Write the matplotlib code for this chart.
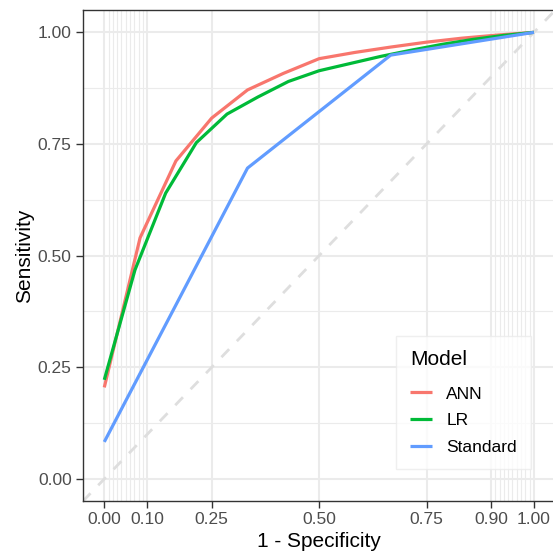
import numpy as np
import matplotlib
matplotlib.use("Agg")
import matplotlib.pyplot as plt

plt.rcParams['font.family'] = ['Liberation Sans', 'DejaVu Sans']

# ROC curve points
ann_fpr = [0, 1/12, 2/12, 3/12, 4/12, 5/12, 6/12, 7/12, 8/12, 9/12, 10/12, 11/12, 1]
ann_tpr = [0.205, 0.540, 0.712, 0.808, 0.871, 0.908, 0.941, 0.955, 0.967, 0.978, 0.987, 0.994, 1.0]

lr_fpr = [0, 1/14, 2/14, 3/14, 4/14, 5/14, 6/14, 7/14, 8/14, 9/14, 10/14, 11/14, 12/14, 13/14, 1]
lr_tpr = [0.222, 0.468, 0.640, 0.753, 0.817, 0.855, 0.890, 0.914, 0.930, 0.946, 0.960, 0.973, 0.984, 0.993, 1.0]

std_fpr = [0, 1/3, 2/3, 1]
std_tpr = [0.083, 0.696, 0.949, 1.0]

models = ['ANN', 'LR', 'Standard']
colors = ['#F8766D', '#00BA38', '#619CFF']

x_breaks = [0, 0.1, 0.25, 0.5, 0.75, 0.9, 1.0]
x_labels = ['0.00', '0.10', '0.25', '0.50', '0.75', '0.90', '1.00']
x_minor = [0.01 * i for i in range(1, 10)] + [0.9 + 0.01 * i for i in range(1, 10)]
y_breaks = [0, 0.25, 0.5, 0.75, 1.0]
y_minor = [0.125, 0.375, 0.625, 0.875]

W, H = 553, 551
fig = plt.figure(figsize=(W / 100, H / 100), dpi=100)
ax = fig.add_axes([82.8 / W, 49.7 / H, 472.6 / W, 491.3 / H])

ax.set_xlim(-0.05, 1.05)
ax.set_ylim(-0.05, 1.05)

# grid
for v in x_minor:
    ax.axvline(v, color='#EBEBEB', lw=0.8, zorder=0)
for v in y_minor:
    ax.axhline(v, color='#EBEBEB', lw=0.8, zorder=0)
for v in x_breaks:
    ax.axvline(v, color='#EBEBEB', lw=1.5, zorder=0)
for v in y_breaks:
    ax.axhline(v, color='#EBEBEB', lw=1.5, zorder=0)

# chance diagonal
ax.plot([-0.05, 1.05], [-0.05, 1.05], color='#DEDEDE', lw=2.0,
        dashes=(4, 4), zorder=1)

series = [(ann_fpr, ann_tpr), (lr_fpr, lr_tpr), (std_fpr, std_tpr)]
for (fx, fy), name, c in zip(series, models, colors):
    ax.plot(fx, fy, color=c, lw=2.3, label=name, zorder=2,
            solid_capstyle='butt')

ax.set_xticks(x_breaks)
ax.set_xticklabels(x_labels)
ax.set_yticks(y_breaks)
ax.set_yticklabels(['0.00', '0.25', '0.50', '0.75', '1.00'])
ax.tick_params(axis='both', length=5, width=1, color='#333333',
               labelcolor='#4D4D4D', labelsize=12.5, pad=3)

for s in ax.spines.values():
    s.set_color('#333333')
    s.set_linewidth(1.0)

ax.set_xlabel('1 - Specificity', fontsize=15, color='black', labelpad=3)
ax.set_ylabel('Sensitivity', fontsize=15, color='black', labelpad=3)

leg = ax.legend(title='Model', loc='upper left',
                bbox_to_anchor=(396 / W, 1 - 336 / H),
                bbox_transform=fig.transFigure,
                fontsize=12.5, title_fontsize=15, frameon=True,
                fancybox=False, handlelength=1.3, handletextpad=0.8,
                borderpad=0.8, labelspacing=0.67, borderaxespad=0)
leg.get_frame().set_edgecolor('#EBEBEB')
leg.get_frame().set_linewidth(1.0)
leg._legend_box.align = 'left'
leg._legend_box.sep = 12.6

fig.savefig('out.png', dpi=100)
